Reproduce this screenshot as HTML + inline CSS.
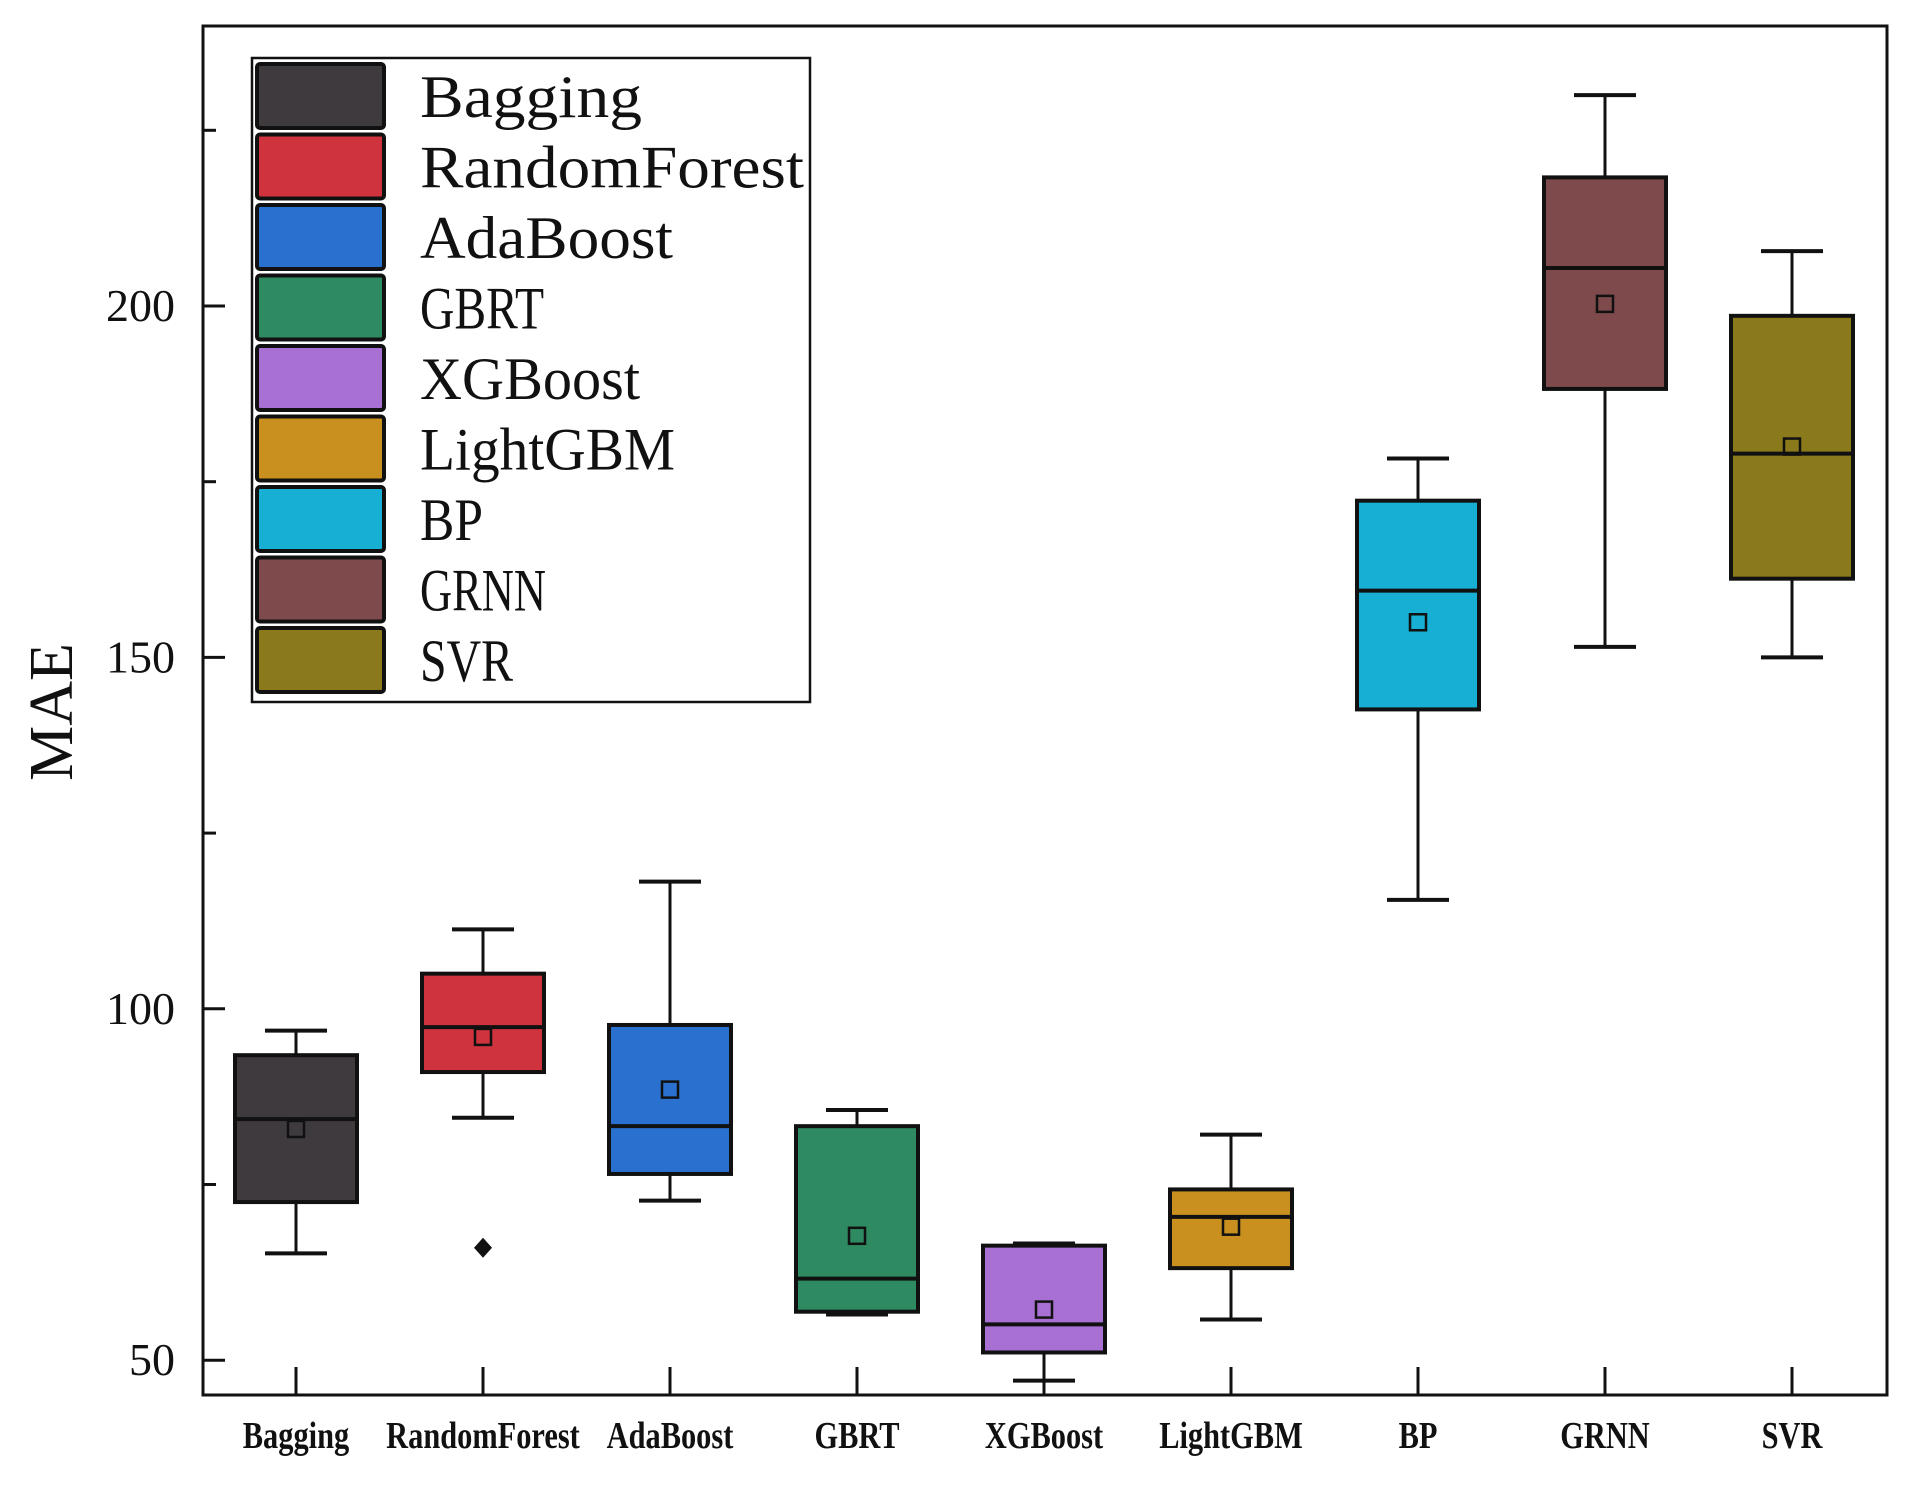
<!DOCTYPE html>
<html><head><meta charset="utf-8"><style>
html,body{margin:0;padding:0;background:#fff;}
svg{display:block;}
text{font-family:"Liberation Serif",serif;fill:#111;}
</style></head><body>
<svg id="chart" width="1916" height="1488" viewBox="0 0 1916 1488" xmlns="http://www.w3.org/2000/svg"></svg>
<script>
const categories = ["Bagging","RandomForest","AdaBoost","GBRT","XGBoost","LightGBM","BP","GRNN","SVR"];
const whiskerLow  = [65.2, 84.5, 72.7, 56.5, 47.1, 55.8, 115.5, 151.5, 150];
const q1Values    = [72.5, 91.0, 76.5, 56.9, 51.1, 63.1, 142.6, 188.2, 161.2];
const medianValues= [84.3, 97.4, 83.3, 61.6, 55.1, 70.4, 159.5, 205.4, 179.0];
const q3Values    = [93.4, 105.0, 97.7, 83.3, 66.3, 74.3, 172.3, 218.3, 198.6];
const whiskerHigh = [96.9, 111.3, 118.1, 85.6, 66.6, 82.1, 178.3, 230.0, 207.8];
const meanValues  = [82.9, 96.0, 88.5, 67.7, 57.2, 69.0, 155.0, 200.3, 180.0];
const outlierCats = ["RandomForest"];
const outlierValues = [66.0];
const colors = ["#3e3a3d","#cf333d","#2a70cf","#2e8a60","#a770d2","#c98f1f","#17afd3","#7e4a4b","#8b7a1b"];
const yTicks = [50,100,150,200];
const yMinorTicks = [75,125,175,225];

const NS="http://www.w3.org/2000/svg";
const svg=document.getElementById('chart');
const L=203,R=1887,T=26,B=1395;
const yV=v=>306+(200-v)*(351.4/50);
const xC=i=>296+i*187;
const BW=122, CW=62;
const legendTextWidths=[222,384,253,124,220,255,63,126,93];
function mk(tag,attrs,parent){const e=document.createElementNS(NS,tag);for(const k in attrs)e.setAttribute(k,attrs[k]);(parent||svg).appendChild(e);return e;}

const frame=mk('rect',{x:L,y:T,width:R-L,height:B-T,fill:'none',stroke:'#111','stroke-width':3});



yTicks.forEach(v=>{
  const t=mk('line',{x1:L,x2:L+22,y1:yV(v),y2:yV(v),stroke:'#111','stroke-width':3});
  
  
  const lb=mk('text',{x:175,y:yV(v)+15,'text-anchor':'end','font-size':46});
  lb.textContent=v;
  
  
});
yMinorTicks.forEach(v=>{
  const t=mk('line',{x1:L,x2:L+13,y1:yV(v),y2:yV(v),stroke:'#111','stroke-width':3});
  
  
});
const yt=mk('text',{x:0,y:0,'text-anchor':'middle','font-size':62,transform:'translate(72,712) rotate(-90)'});
yt.textContent='MAE';



categories.forEach((c,i)=>{
  const x=xC(i);
  const t=mk('line',{x1:x,x2:x,y1:B,y2:B-28,stroke:'#111','stroke-width':3});
  
  
  const lb=mk('text',{x:x,y:1448,'text-anchor':'middle','font-size':38,'font-weight':'bold',transform:`translate(${x},0) scale(0.8,1) translate(${-x},0)`});
  lb.textContent=c;
  
  

  const g=mk('g',{});
  
  
  mk('line',{x1:x,x2:x,y1:yV(whiskerHigh[i]),y2:yV(q3Values[i]),stroke:'#111','stroke-width':3},g);
  mk('line',{x1:x,x2:x,y1:yV(q1Values[i]),y2:yV(whiskerLow[i]),stroke:'#111','stroke-width':3},g);
  mk('line',{x1:x-CW/2,x2:x+CW/2,y1:yV(whiskerHigh[i]),y2:yV(whiskerHigh[i]),stroke:'#111','stroke-width':4},g);
  mk('line',{x1:x-CW/2,x2:x+CW/2,y1:yV(whiskerLow[i]),y2:yV(whiskerLow[i]),stroke:'#111','stroke-width':4},g);
  mk('rect',{x:x-BW/2,y:yV(q3Values[i]),width:BW,height:yV(q1Values[i])-yV(q3Values[i]),fill:colors[i],stroke:'#111','stroke-width':4},g);
  mk('line',{x1:x-BW/2,x2:x+BW/2,y1:yV(medianValues[i]),y2:yV(medianValues[i]),stroke:'#111','stroke-width':4},g);
  mk('rect',{x:x-8,y:yV(meanValues[i])-8,width:16,height:16,fill:'none',stroke:'#111','stroke-width':2.5},g);
});
outlierCats.forEach((c,j)=>{
  const x=xC(categories.indexOf(c)), y=yV(outlierValues[j]);
  const d=mk('path',{d:`M${x} ${y-10}L${x+9} ${y}L${x} ${y+10}L${x-9} ${y}Z`,fill:'#111'});
  
  
});

const lg=mk('g',{});


mk('rect',{x:252,y:58,width:558,height:644,fill:'#fff',stroke:'#111','stroke-width':2.5},lg);
categories.forEach((c,i)=>{
  const cy=96+i*70.5;
  const e=mk('g',{},lg);
  
  
  mk('rect',{x:257,y:cy-32,width:127,height:64,fill:colors[i],stroke:'#111','stroke-width':4,rx:3},e);
  const tx=mk('text',{x:420,y:cy+21,'font-size':60,textLength:legendTextWidths[i],lengthAdjust:'spacingAndGlyphs'},e);
  tx.textContent=c;
});
</script>
</body></html>
